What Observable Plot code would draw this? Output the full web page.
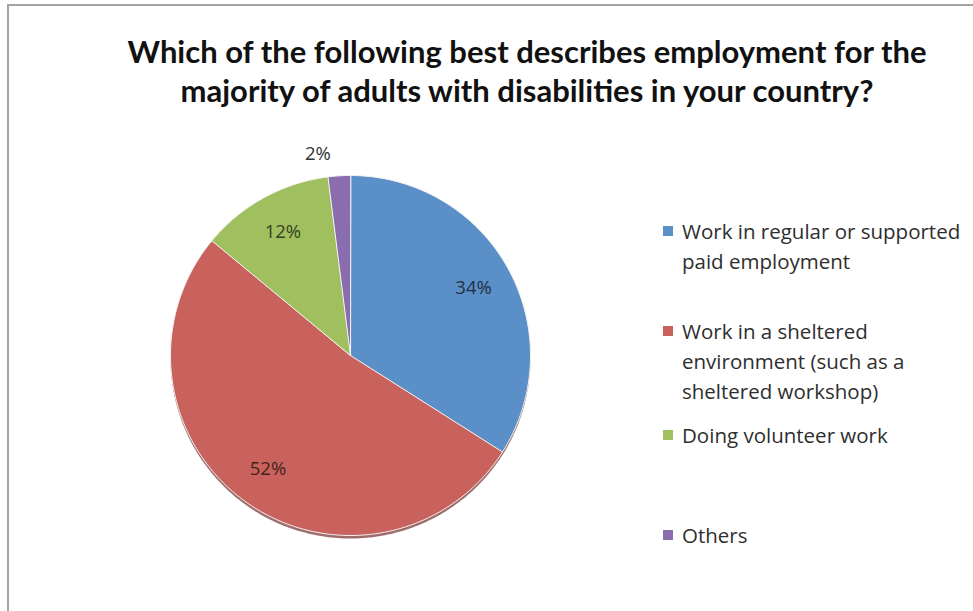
<!DOCTYPE html>
<html><head><meta charset="utf-8">
<script src="https://cdn.jsdelivr.net/npm/d3@7"></script>
<script src="https://cdn.jsdelivr.net/npm/@observablehq/plot@0.6"></script>
<style>
body{margin:0;background:#fff;}
#wrap{position:relative;width:973px;height:611px;overflow:hidden;font-family:"Open Sans",Lato,sans-serif;background:#fff;}
#frame{position:absolute;left:7px;top:4px;right:-5px;bottom:-5px;border-top:2px solid #a3a3a3;border-left:2px solid #a3a3a3;}
#title{position:absolute;left:0;width:1054px;top:32px;text-align:center;font-family:Lato,sans-serif;font-weight:bold;font-size:31px;line-height:39px;color:#111;}
#chart{position:absolute;left:0;top:0;}
.leg{position:absolute;left:663px;font-size:20.5px;line-height:30px;color:#2e2e2e;}
.leg .sw{position:absolute;left:0;top:10px;width:10px;height:10px;}
.leg .tx{margin-left:19px;white-space:nowrap;}
</style></head>
<body>
<div id="wrap">
  <div id="frame"></div>
  <div id="title">Which of the following best describes employment for the<br>majority of adults with disabilities in your country?</div>
  <div id="chart"></div>
</div>
<script>
const categories = ["Work in regular or supported paid employment", "Work in a sheltered environment (such as a sheltered workshop)", "Doing volunteer work", "Others"];
const values = [34, 52, 12, 2];
const colors = ["#5B8FC7", "#C9625C", "#A0BF5E", "#8A6DAF"];
const labels = ["34%", "52%", "12%", "2%"];
const legendLines = [["Work in regular or supported", "paid employment"], ["Work in a sheltered", "environment (such as a", "sheltered workshop)"], ["Doing volunteer work"], ["Others"]];

const legendTops = [216, 316, 420, 520];

const arcs = d3.pie().sort(null)(values);
const slices = [];
arcs.forEach((a, i) => {
  slices.push({cat: categories[i], x: 0, y: 0});
  const n = Math.max(2, Math.ceil((a.endAngle - a.startAngle) / (Math.PI / 180)));
  for (let k = 0; k <= n; k++) {
    const t = a.startAngle + (a.endAngle - a.startAngle) * k / n;
    slices.push({cat: categories[i], x: Math.sin(t), y: Math.cos(t)});
  }
});
const outline = [];
for (let k = 0; k < 360; k++) { const t = k * Math.PI / 180; outline.push({x: Math.sin(t), y: Math.cos(t)}); }

const inside = [], outside = [];
arcs.forEach((a, i) => {
  const m = (a.startAngle + a.endAngle) / 2;
  const frac = values[i] / d3.sum(values);
  const r = frac < 0.05 ? 1.12 : 0.78;
  const d = {x: r * Math.sin(m), y: r * Math.cos(m), text: labels[i], color: d3.color(colors[i]).darker(3).formatHex()};
  (frac < 0.05 ? outside : inside).push(d);
});

const font = "'Open Sans', Lato, sans-serif";
const plot = Plot.plot({
  width: 973, height: 611,
  x: {domain: [-1, 1], range: [170, 530], axis: null},
  y: {domain: [-1, 1], range: [535, 175], axis: null},
  color: {domain: categories, range: colors},
  marks: [
    Plot.line(outline, {x: "x", y: "y", curve: "linear-closed", fill: "#7d3c39", fillOpacity: 0.75, stroke: "none", dy: 3}),
    Plot.line(slices, {x: "x", y: "y", z: "cat", fill: "cat", stroke: "#f4f4f4", strokeWidth: 1, curve: "linear-closed"}),
    Plot.text(inside, {x: "x", y: "y", text: "text", fill: "color", fontSize: 18.5, fontFamily: font}),
    Plot.text(outside, {x: "x", y: "y", text: "text", fill: "#333", fontSize: 18.5, dx: -20, fontFamily: font})
  ]
});
plot.style.background = "transparent";
document.getElementById("chart").appendChild(plot);

const wrap = document.getElementById("wrap");
legendLines.forEach((lines, i) => {
  const div = document.createElement("div");
  div.className = "leg";
  div.style.top = legendTops[i] + "px";
  div.innerHTML = `<div class="sw" style="background:${colors[i]}"></div><div class="tx">${lines.join("<br>")}</div>`;
  wrap.appendChild(div);
});
</script>
</body></html>
